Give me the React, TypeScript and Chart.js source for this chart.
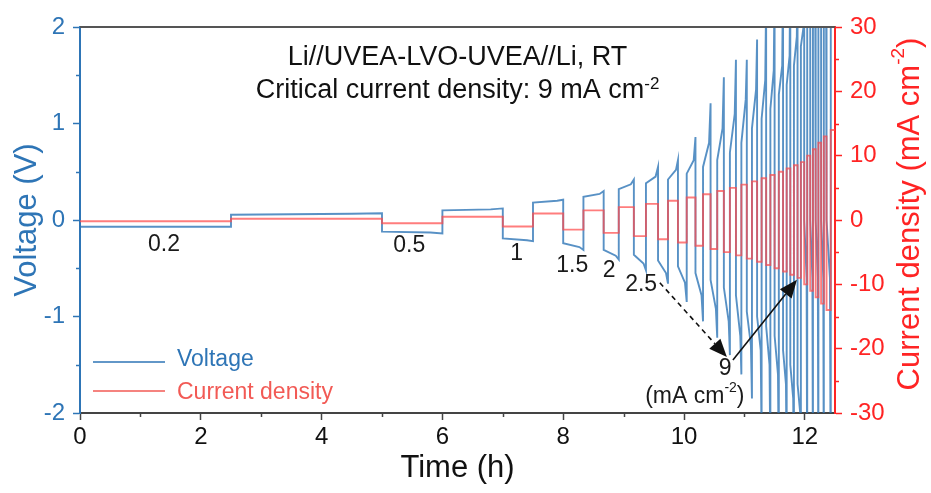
import React, { useEffect, useRef } from 'react';
import { Chart, registerables } from 'chart.js';

Chart.register(...registerables);

// ---------------- data ----------------
// current density of each galvanostatic step (mA cm-2): negative half first, then positive half
const currentLevels = [0.2, 0.5, 1, 1.5, 2, 2.5, 3, 3.5, 4, 4.5, 5, 5.5, 6, 6.5, 7, 7.5, 8, 8.5, 9, 10, 11, 12, 13, 14];
// start time (h) of each step; each step is split in two equal halves
const levelStartTimes = [0, 5, 7, 8, 8.67, 9.17, 9.57, 9.9, 10.19, 10.44, 10.66, 10.86, 11.04, 11.21, 11.36, 11.5, 11.64, 11.76, 11.88, 11.99, 12.09, 12.18, 12.27, 12.36];
const lastEndTime = 12.5;

// voltage (V) in the negative half: start, late (80 %), end
const negStartV = [-0.07, -0.12, -0.19, -0.24, -0.31, -0.36, -0.42, -0.48, -0.55, -0.62, -0.7, -0.78, -0.95, -1.0, -1.1, -1.2, -1.35, -1.5, -1.7, 0, 0, 0, 0, 0];
const negLateV = [-0.07, -0.13, -0.21, -0.28, -0.37, -0.45, -0.55, -0.65, -0.78, -0.92, -1.05, -1.2, -1.3, -1.35, -1.5, -1.6, -1.7, -1.85, -2.0, -0.6, -0.6, -0.6, -0.6, -0.6];
const negEndV = [-0.07, -0.14, -0.22, -0.31, -0.41, -0.52, -0.66, -0.85, -1.05, -1.22, -1.4, -1.6, -1.85, -2.3, -2.5, -2.6, -2.7, -2.8, -3, -3, -3, -3, -3, -3];
// voltage (V) in the positive half: start, late (80 %), end
const posStartV = [0.055, 0.1, 0.18, 0.24, 0.32, 0.38, 0.42, 0.48, 0.55, 0.62, 0.7, 0.8, 0.95, 1.05, 1.15, 1.3, 1.4, 1.6, 1.8, 3, 3, 3, 3, 3];
const posLateV = [0.065, 0.11, 0.2, 0.27, 0.37, 0.45, 0.52, 0.62, 0.8, 0.95, 1.1, 1.25, 1.35, 1.45, 1.55, 1.6, 1.7, 1.9, 2.0, 3, 3, 3, 3, 3];
const posEndV = [0.07, 0.12, 0.21, 0.3, 0.42, 0.55, 0.62, 0.86, 1.21, 1.48, 1.66, 1.66, 1.87, 2.3, 2.5, 2.6, 2.7, 2.8, 3, 3, 3, 3, 3, 3];

// tick labels
const timeTicks = [0, 2, 4, 6, 8, 10, 12];
const voltageTicks = [-2, -1, 0, 1, 2];
const currentTicks = [-30, -20, -10, 0, 10, 20, 30];
const timeMinorTicks = [1, 3, 5, 7, 9, 11];
const voltageMinorTicks = [-1.5, -0.5, 0.5, 1.5];
const currentMinorTicks = [-25, -15, -5, 5, 15, 25];

// step annotations
const stepLabels = ['0.2', '0.5', '1', '1.5', '2', '2.5'];

// ---------------- styles ----------------
const FONT = '"Liberation Sans", Arial, Helvetica, sans-serif';
const BLUE = '#2e75b6';
const RED = '#ff2424';
const LEGEND_RED = '#f25a55';
const AXIS_GRAY = '#444444';

function stepBounds(i: number) {
  const t0 = levelStartTimes[i];
  const t1 = i + 1 < levelStartTimes.length ? levelStartTimes[i + 1] : lastEndTime;
  return { t0, t1, tm: (t0 + t1) / 2 };
}

function buildVoltage() {
  const pts: { x: number; y: number }[] = [];
  currentLevels.forEach((_, i) => {
    const { t0, t1, tm } = stepBounds(i);
    const h = tm - t0;
    pts.push({ x: t0, y: negStartV[i] });
    pts.push({ x: t0 + 0.8 * h, y: negLateV[i] });
    pts.push({ x: tm, y: negEndV[i] });
    pts.push({ x: tm, y: posStartV[i] });
    pts.push({ x: tm + 0.8 * h, y: posLateV[i] });
    pts.push({ x: t1, y: posEndV[i] });
  });
  return pts;
}

function buildCurrent() {
  const pts: { x: number; y: number }[] = [];
  currentLevels.forEach((I, i) => {
    const { t0, t1, tm } = stepBounds(i);
    pts.push({ x: t0, y: -I });
    pts.push({ x: tm, y: -I });
    pts.push({ x: tm, y: I });
    pts.push({ x: t1, y: I });
  });
  return pts;
}

type Part = [string, boolean?];

function richWidth(ctx: CanvasRenderingContext2D, parts: Part[], size: number) {
  let w = 0;
  for (const [t, sup] of parts) {
    ctx.font = `${sup ? Math.round(size * 0.62) : size}px ${FONT}`;
    w += ctx.measureText(t).width;
  }
  return w;
}

function drawRich(ctx: CanvasRenderingContext2D, parts: Part[], cx: number, y: number, size: number) {
  const w = richWidth(ctx, parts, size);
  let x = cx - w / 2;
  ctx.textAlign = 'left';
  for (const [t, sup] of parts) {
    ctx.font = `${sup ? Math.round(size * 0.62) : size}px ${FONT}`;
    ctx.fillText(t, x, sup ? y - size * 0.36 : y);
    x += ctx.measureText(t).width;
  }
}

function drawArrow(ctx: CanvasRenderingContext2D, x1: number, y1: number, x2: number, y2: number, dashed: boolean) {
  const ang = Math.atan2(y2 - y1, x2 - x1);
  const L = 18;
  const W = 7.5;
  const bx = x2 - Math.cos(ang) * L;
  const by = y2 - Math.sin(ang) * L;
  ctx.save();
  ctx.strokeStyle = '#111';
  ctx.fillStyle = '#111';
  ctx.lineWidth = 1.6;
  if (dashed) ctx.setLineDash([5, 4]);
  ctx.beginPath();
  ctx.moveTo(x1, y1);
  ctx.lineTo(bx, by);
  ctx.stroke();
  ctx.setLineDash([]);
  ctx.beginPath();
  ctx.moveTo(x2, y2);
  ctx.lineTo(bx + Math.sin(ang) * W, by - Math.cos(ang) * W);
  ctx.lineTo(bx - Math.sin(ang) * W, by + Math.cos(ang) * W);
  ctx.closePath();
  ctx.fill();
  ctx.restore();
}

const decorPlugin = {
  id: 'decor',
  afterDraw(chart: any) {
    const { ctx, chartArea: ca, scales } = chart;
    const xs = scales.x;
    const ys = scales.y;
    const y1s = scales.y1;
    const px = (t: number) => xs.getPixelForValue(t);
    const py = (v: number) => ys.getPixelForValue(v);
    ctx.save();

    // top frame line
    ctx.strokeStyle = '#555';
    ctx.lineWidth = 2;
    ctx.beginPath();
    ctx.moveTo(ca.left, ca.top);
    ctx.lineTo(ca.right, ca.top);
    ctx.stroke();

    // minor ticks
    ctx.lineWidth = 1.5;
    ctx.strokeStyle = AXIS_GRAY;
    for (const t of timeMinorTicks) {
      const x = Math.round(px(t)) + 0.5;
      ctx.beginPath();
      ctx.moveTo(x, ca.bottom);
      ctx.lineTo(x, ca.bottom + 4);
      ctx.stroke();
    }
    ctx.strokeStyle = BLUE;
    for (const v of voltageMinorTicks) {
      const y = Math.round(py(v)) + 0.5;
      ctx.beginPath();
      ctx.moveTo(ca.left, y);
      ctx.lineTo(ca.left - 4, y);
      ctx.stroke();
    }
    ctx.strokeStyle = RED;
    for (const v of currentMinorTicks) {
      const y = Math.round(y1s.getPixelForValue(v)) + 0.5;
      ctx.beginPath();
      ctx.moveTo(ca.right, y);
      ctx.lineTo(ca.right + 4, y);
      ctx.stroke();
    }

    // title lines
    ctx.fillStyle = '#111';
    ctx.textBaseline = 'alphabetic';
    const cx = px(6.25);
    drawRich(ctx, [['Li//UVEA-LVO-UVEA//Li, RT']], cx, py(1.61), 27);
    drawRich(ctx, [['Critical current density: 9 mA cm'], ['-2', true]], cx, py(1.26), 27);

    // step labels
    ctx.textBaseline = 'middle';
    ctx.fillStyle = '#1a1a1a';
    const labelT = [1.39, 5.45, 7.23, 8.15, 8.76, 9.29];
    const labelV = [-0.26, -0.27, -0.35, -0.47, -0.53, -0.67];
    stepLabels.forEach((s, i) => drawRich(ctx, [[s]], px(labelT[i]), py(labelV[i]), 23));
    drawRich(ctx, [['9']], px(10.68), py(-1.54), 23);
    drawRich(ctx, [['(mA cm'], ['-2', true], [')']], px(10.18), py(-1.83), 23);

    // arrows
    drawArrow(ctx, px(9.6), py(-0.65), px(10.71), py(-1.42), true);
    drawArrow(ctx, px(10.81), py(-1.45), px(11.87), py(-0.62), false);

    // legend
    ctx.lineWidth = 1.6;
    ctx.strokeStyle = BLUE;
    ctx.beginPath();
    ctx.moveTo(ca.left + 13, ca.bottom - 51);
    ctx.lineTo(ca.left + 85, ca.bottom - 51);
    ctx.stroke();
    ctx.strokeStyle = LEGEND_RED;
    ctx.beginPath();
    ctx.moveTo(ca.left + 13, ca.bottom - 22);
    ctx.lineTo(ca.left + 85, ca.bottom - 22);
    ctx.stroke();
    ctx.textAlign = 'left';
    ctx.textBaseline = 'middle';
    ctx.font = `23px ${FONT}`;
    ctx.fillStyle = BLUE;
    ctx.fillText('Voltage', ca.left + 97, ca.bottom - 53);
    ctx.fillStyle = LEGEND_RED;
    ctx.fillText('Current density', ca.left + 97, ca.bottom - 20);

    // axis titles
    ctx.textBaseline = 'middle';
    ctx.fillStyle = BLUE;
    ctx.save();
    ctx.translate(27, (ca.top + ca.bottom) / 2);
    ctx.rotate(-Math.PI / 2);
    drawRich(ctx, [['Voltage (V)']], 0, 0, 31);
    ctx.restore();

    ctx.fillStyle = '#111';
    drawRich(ctx, [['Time (h)']], (ca.left + ca.right) / 2, 468, 31);

    ctx.fillStyle = RED;
    ctx.save();
    ctx.translate(910, 214);
    ctx.rotate(-Math.PI / 2);
    drawRich(ctx, [['Current density (mA cm'], ['-2', true], [')']], 0, 0, 31);
    ctx.restore();

    ctx.restore();
  },
};

export default function App() {
  const canvasRef = useRef<HTMLCanvasElement | null>(null);

  useEffect(() => {
    const canvas = canvasRef.current;
    if (!canvas) return;
    const chart = new Chart(canvas, {
      type: 'line',
      data: {
        datasets: [
          {
            label: 'Current density',
            data: buildCurrent(),
            yAxisID: 'y1',
            borderColor: 'rgba(255, 75, 75, 0.72)',
            borderWidth: 1.9,
            pointRadius: 0,
            fill: false,
            tension: 0,
          },
          {
            label: 'Voltage',
            data: buildVoltage(),
            yAxisID: 'y',
            borderColor: 'rgba(46, 117, 182, 0.8)',
            borderWidth: 1.9,
            pointRadius: 0,
            fill: false,
            tension: 0,
          },
        ],
      },
      options: {
        responsive: false,
        animation: false,
        devicePixelRatio: 1,
        layout: { padding: { top: 27, left: 0, right: 0, bottom: 0 } },
        plugins: { legend: { display: false }, tooltip: { enabled: false } },
        scales: {
          x: {
            type: 'linear',
            position: 'bottom',
            min: 0,
            max: 12.5,
            afterBuildTicks: (s: any) => {
              s.ticks = timeTicks.map((v) => ({ value: v }));
            },
            afterFit: (s: any) => {
              s.height = 80;
            },
            ticks: { color: '#111', font: { size: 24, family: FONT }, padding: 3, maxRotation: 0, autoSkip: false },
            grid: { drawOnChartArea: false, drawTicks: true, tickLength: 7, tickColor: AXIS_GRAY, tickWidth: 1.5 },
            border: { color: AXIS_GRAY, width: 2 },
          },
          y: {
            type: 'linear',
            position: 'left',
            min: -2,
            max: 2,
            afterBuildTicks: (s: any) => {
              s.ticks = voltageTicks.map((v) => ({ value: v }));
            },
            afterFit: (s: any) => {
              s.width = 80;
            },
            ticks: { color: BLUE, font: { size: 24, family: FONT }, padding: 8 },
            grid: { drawOnChartArea: false, drawTicks: true, tickLength: 7, tickColor: BLUE, tickWidth: 1.5 },
            border: { color: BLUE, width: 2 },
          },
          y1: {
            type: 'linear',
            position: 'right',
            min: -30,
            max: 30,
            afterBuildTicks: (s: any) => {
              s.ticks = currentTicks.map((v) => ({ value: v }));
            },
            afterFit: (s: any) => {
              s.width = 96;
            },
            ticks: { color: RED, font: { size: 24, family: FONT }, padding: 8 },
            grid: { drawOnChartArea: false, drawTicks: true, tickLength: 7, tickColor: RED, tickWidth: 1.5 },
            border: { color: RED, width: 2 },
          },
        },
      },
      plugins: [decorPlugin],
    } as any);
    return () => chart.destroy();
  }, []);

  return (
    <canvas
      ref={canvasRef}
      width={931}
      height={493}
      style={{ position: 'absolute', left: 0, top: 0, display: 'block', background: '#fff' }}
    />
  );
}
